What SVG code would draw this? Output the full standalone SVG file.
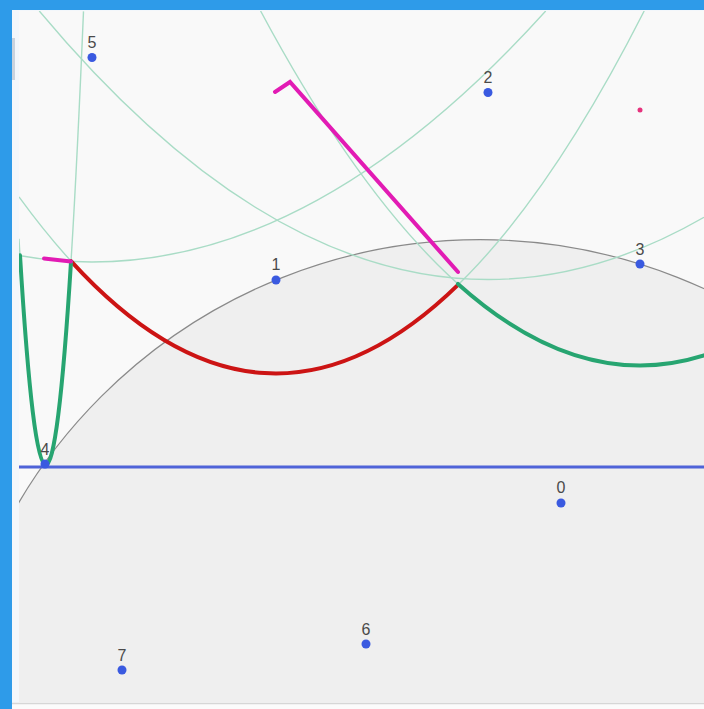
<svg xmlns="http://www.w3.org/2000/svg" width="704" height="709" viewBox="0 0 704 709">
<style>
.thin{fill:none;stroke:#a9dcc6;stroke-width:1.4}
.thick{fill:none;stroke-width:4;stroke-linecap:round}
.edge{fill:none;stroke:#e21bb4;stroke-width:4;stroke-linecap:round;stroke-linejoin:miter}
.site{fill:#3a5ae0}
.lbl{font-family:"Liberation Sans","DejaVu Sans",sans-serif;font-size:16px;fill:#4a4a4a;text-anchor:middle}
</style>
<defs>
<clipPath id="cv"><rect x="19" y="11" width="685" height="692"/></clipPath>
</defs>
<rect x="0" y="0" width="704" height="709" fill="#2e9be9"/>
<rect x="12" y="10" width="692" height="699" fill="#f3f7fb"/>
<rect x="12" y="38" width="3" height="42" fill="#c9d3de"/>
<rect x="19" y="11" width="685" height="692" fill="#f9f9f9"/>
<rect x="12" y="703" width="692" height="6" fill="#fbfbfb"/>
<line x1="12" y1="703.5" x2="704" y2="703.5" stroke="#d6d6d6" stroke-width="1.5"/>
<g clip-path="url(#cv)">
<circle id="circle-event" cx="480.1" cy="775.7" r="536" fill="#efefef" stroke="#8a8a8a" stroke-width="1.2"/>
<g id="connectors">
<path class="thin" d="M19,255.5 Q282.35,302.4 545.7,11"/>
<path class="thin" d="M39.3,11 Q371.65,408.8 704,217.3"/>
<path class="thin" d="M19,196.9 Q331.6,626.5 644.2,11"/>
<path class="thin" d="M260.6,11 Q482.3,425.35 704,355.4"/>
<path class="thin" d="M19,238.7 Q51.25,785.4 83.5,11.4"/>
<line id="sweep" x1="19" y1="467" x2="704" y2="467" stroke="#4f63d8" stroke-width="3"/>
<path class="thick" stroke="#cc1414" d="M71,261.1 Q264.5,473.2 458,284.9"/>
<path class="thick" stroke="#27a571" d="M458,283.9 Q581,394.2 704,355.4"/>
<path class="thick" stroke="#27a571" d="M20,255.3 Q45.5,671.4 71,261.8"/>
<polyline class="edge" points="275,92 290,82 458,272"/>
<line class="edge" x1="44" y1="258.5" x2="71" y2="261.5"/>
<circle cx="640" cy="110" r="2.5" fill="#e6337d"/>
</g>
<g id="site-0"><circle class="site" cx="561" cy="503" r="4.5"/><text class="lbl" x="561" y="493">0</text></g>
<g id="site-1"><circle class="site" cx="276" cy="280" r="4.5"/><text class="lbl" x="276" y="270">1</text></g>
<g id="site-2"><circle class="site" cx="488" cy="92.5" r="4.5"/><text class="lbl" x="488" y="83">2</text></g>
<g id="site-3"><circle class="site" cx="640" cy="264" r="4.5"/><text class="lbl" x="640" y="255">3</text></g>
<g id="site-4"><circle class="site" cx="45" cy="464" r="4.5"/><text class="lbl" x="45" y="455">4</text></g>
<g id="site-5"><circle class="site" cx="92" cy="57.5" r="4.5"/><text class="lbl" x="92" y="48">5</text></g>
<g id="site-6"><circle class="site" cx="366" cy="644" r="4.5"/><text class="lbl" x="366" y="635">6</text></g>
<g id="site-7"><circle class="site" cx="122" cy="670" r="4.5"/><text class="lbl" x="122" y="661">7</text></g>
</g>
</svg>
